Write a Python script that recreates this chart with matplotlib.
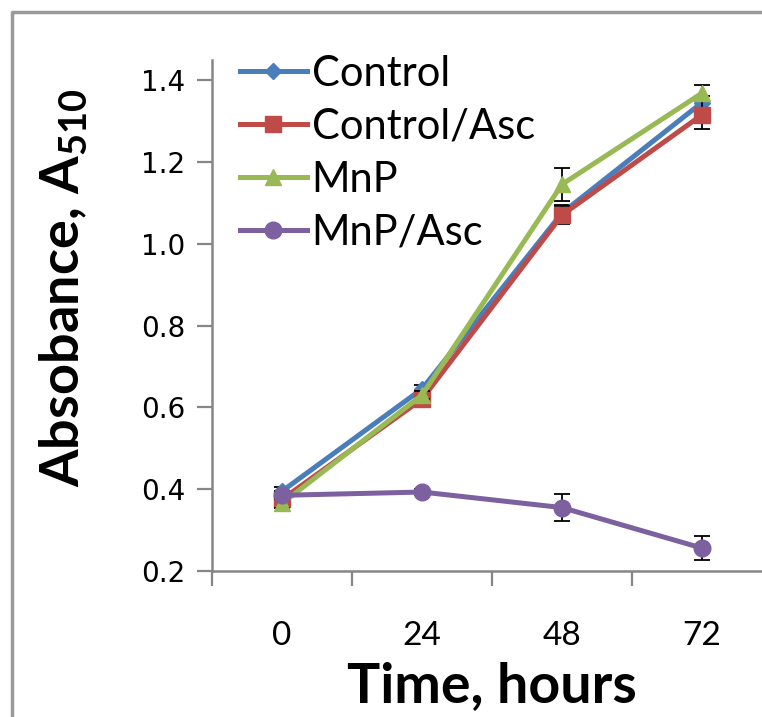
import matplotlib.pyplot as plt
from matplotlib.lines import Line2D

hours = ['0', '24', '48', '72']

control = [0.395, 0.645, 1.075, 1.345]
control_err = [0.010, 0.010, 0.020, 0.015]
control_asc = [0.375, 0.620, 1.070, 1.315]
control_asc_err = [0.015, 0.010, 0.022, 0.035]
mnp = [0.365, 0.630, 1.145, 1.368]
mnp_err = [0.010, 0.010, 0.040, 0.020]
mnp_asc = [0.385, 0.393, 0.355, 0.256]
mnp_asc_err = [0.010, 0.008, 0.033, 0.030]

plt.rcParams['mathtext.fontset'] = 'custom'
plt.rcParams['mathtext.rm'] = 'Lato:bold'
plt.rcParams['mathtext.default'] = 'rm'

fig = plt.figure(figsize=(7.62, 7.17), dpi=100)
# plot area runs past the right edge, like the cropped original
ax = fig.add_axes([212 / 762, 146 / 717, 560 / 762, 511 / 717])

x = list(range(len(hours)))
series = [
    ('Control', control, control_err, '#4A7EBB', 'D', 8),
    ('Control/Asc', control_asc, control_asc_err, '#BE4B48', 's', 11),
    ('MnP', mnp, mnp_err, '#98B954', '^', 12),
    ('MnP/Asc', mnp_asc, mnp_asc_err, '#7D60A0', 'o', 12),
]
for i, (name, vals, err, col, mk, ms) in enumerate(series):
    ax.errorbar(x, vals, yerr=err, fmt='none', ecolor='black',
                elinewidth=1.3, capsize=6, capthick=1.3, zorder=2 + i)
    ax.plot(x, vals, color=col, lw=3.6, marker=mk, markersize=ms,
            label=name, zorder=2.5 + i)

ax.set_xlim(-0.5, 3.5)
ax.set_ylim(0.2, 1.449)
ax.set_yticks([0.2, 0.4, 0.6, 0.8, 1.0, 1.2, 1.4])
ax.set_yticklabels(['0.2', '0.4', '0.6', '0.8', '1.0', '1.2', '1.4'],
                   fontsize=20, family='DejaVu Sans')
ax.set_xticks(x)
ax.set_xticklabels(hours, fontsize=24, family='Lato')
ax.set_xticks([-0.5, 0.5, 1.5, 2.5, 3.5], minor=True)
ax.tick_params(axis='x', which='major', length=0, pad=36)
ax.tick_params(axis='x', which='minor', length=11, width=1.6, color='#868686')
ax.tick_params(axis='y', length=11, width=1.6, color='#868686', pad=8)

for s in ['top', 'right']:
    ax.spines[s].set_visible(False)
for s in ['left', 'bottom']:
    ax.spines[s].set_color('#868686')
    ax.spines[s].set_linewidth(1.8)

ax.set_ylabel('Absobance, A$_{510}$', fontsize=39, fontweight='bold',
              family='Lato')
ax.yaxis.set_label_coords(-0.218, 0.554)
ax.set_xlabel('Time, hours', fontsize=40, fontweight='bold', family='Lato',
              labelpad=7)

ax.legend(loc='upper left', bbox_to_anchor=(0.02, 1.043), frameon=False,
          prop={'family': 'Lato', 'size': 30}, handlelength=1.6,
          handletextpad=0.12, labelspacing=0.36, borderaxespad=0)

# grey frame on left and top
bx, by = 12 / 762, 1 - 12 / 717
fig.add_artist(Line2D([bx, bx, 1], [0, by, by], transform=fig.transFigure,
                      color='#9A9A9A', lw=2.5))

fig.savefig('out.png', dpi=100)
